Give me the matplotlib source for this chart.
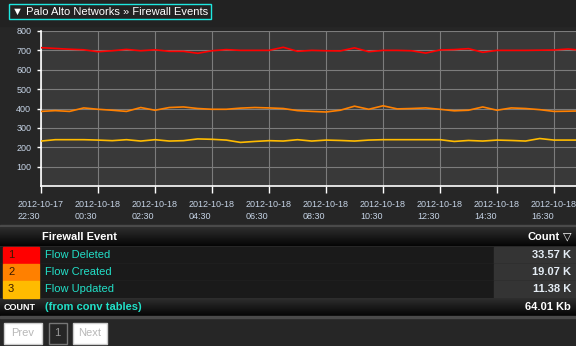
import matplotlib
matplotlib.use('Agg')
import matplotlib.pyplot as plt
import numpy as np
import pandas as pd
from matplotlib.patches import Rectangle

# ---------------- data ----------------
times = pd.date_range('2012-10-17 22:30', periods=39, freq='30min')
flow_deleted = [714, 710, 706, 703, 693, 698, 705, 698, 703, 695, 695, 685, 698,
                704, 700, 700, 700, 716, 695, 700, 698, 697, 713, 693, 700, 700,
                698, 686, 702, 704, 709, 690, 700, 700, 700, 701, 702, 707, 700]
flow_created = [385, 389, 385, 403, 396, 391, 385, 405, 391, 405, 408, 400, 396,
                396, 402, 405, 403, 400, 389, 385, 382, 391, 412, 396, 414, 398,
                400, 403, 396, 388, 391, 408, 391, 403, 400, 394, 385, 386, 388]
flow_updated = [232, 239, 239, 239, 237, 234, 239, 232, 239, 232, 234, 243, 241,
                237, 225, 230, 234, 232, 239, 232, 237, 235, 232, 237, 239, 239,
                239, 239, 239, 230, 235, 232, 237, 235, 232, 245, 237, 237, 237]
tick_times = pd.date_range('2012-10-17 22:30', periods=10, freq='2h')
tick_labels = ['2012-10-17\n22:30', '2012-10-18\n00:30', '2012-10-18\n02:30',
               '2012-10-18\n04:30', '2012-10-18\n06:30', '2012-10-18\n08:30',
               '2012-10-18\n10:30', '2012-10-18\n12:30', '2012-10-18\n14:30',
               '2012-10-18\n16:30']
y_ticks = [100, 200, 300, 400, 500, 600, 700, 800]
events = ['Flow Deleted', 'Flow Created', 'Flow Updated']
counts = ['33.57 K', '19.07 K', '11.38 K']
total = '64.01 Kb'
series_colors = ['#ff0000', '#ff8000', '#ffbb00']
title = '\u25BC Palo Alto Networks \u00BB Firewall Events'

# ---------------- styling ----------------
W, H = 576, 346
BG = '#262626'
CYAN = '#22e0c8'
TICKC = '#c6d4e6'
FONT = ['Liberation Sans', 'DejaVu Sans']
plt.rcParams['font.family'] = FONT

fig = plt.figure(figsize=(W / 100, H / 100), dpi=100, facecolor=BG)

# background / decoration axes in pixel coordinates
bg = fig.add_axes([0, 0, 1, 1], zorder=0)
bg.set_xlim(0, W)
bg.set_ylim(H, 0)
bg.axis('off')
bg.add_patch(Rectangle((0, 0), W, 26, color='#222222', zorder=0))

# title box
bg.add_patch(Rectangle((8.5, 3.5), 202.5, 15.5, fill=False, ec='#1ee8e0', lw=1.0, zorder=2))
bg.text(12, 11.5, title, color='white', fontsize=8, va='center', ha='left', zorder=3)


def gradient(y0, y1, c_top, c_bot):
    top = np.array(matplotlib.colors.to_rgb(c_top))
    bot = np.array(matplotlib.colors.to_rgb(c_bot))
    t = np.linspace(0, 1, 32)[:, None]
    img = (top * (1 - t) + bot * t)[:, None, :]
    bg.imshow(img, extent=(0, W, y1, y0), aspect='auto', zorder=1, interpolation='bilinear')


# separator above table
bg.add_patch(Rectangle((0, 224.5), W, 2, color='#4a4a4a', zorder=1))
# header row
gradient(227, 246, '#2e2e2e', '#050505')
bg.text(42, 236.5, 'Firewall Event', color='white', fontsize=8, fontweight='bold',
        va='center', ha='left', zorder=3)
bg.text(560, 236.5, 'Count', color='white', fontsize=8, fontweight='bold',
        va='center', ha='right', zorder=3)
bg.text(571, 236.0, '\u25BD', color='white', fontsize=8, va='center', ha='right', zorder=3,
        family=['DejaVu Sans'])

row_tops = [247, 264, 281]
row_h = 16.5
for i, (name, cnt, col) in enumerate(zip(events, counts, series_colors)):
    y0 = row_tops[i]
    bg.add_patch(Rectangle((0, y0 - 0.5), W, row_h + 1, color='#3c3c3c', zorder=1))
    bg.add_patch(Rectangle((0, y0), W, row_h, color='#1a1a1a', zorder=1))
    bg.add_patch(Rectangle((494, y0), W - 494, row_h, color='#343434', zorder=1))
    bg.add_patch(Rectangle((3, y0), 36, row_h, color=col, zorder=2))
    yc = y0 + row_h / 2
    bg.text(8, yc, str(i + 1), color='#3a1a00', fontsize=8, va='center', ha='left', zorder=3)
    bg.text(45, yc, name, color=CYAN, fontsize=8, va='center', ha='left', zorder=3)
    bg.text(571, yc, cnt, color='#e4ecf4', fontsize=8, fontweight='bold',
            va='center', ha='right', zorder=3)

# count row
gradient(298, 316, '#2e2e2e', '#050505')
bg.text(4, 307, 'COUNT', color='white', fontsize=6.5, fontweight='bold',
        va='center', ha='left', zorder=3)
bg.text(45, 307, '(from conv tables)', color=CYAN, fontsize=8, fontweight='bold',
        va='center', ha='left', zorder=3)
bg.text(571, 307, total, color='white', fontsize=8, fontweight='bold',
        va='center', ha='right', zorder=3)
bg.add_patch(Rectangle((0, 316), W, 1.5, color='#4a4a4a', zorder=1))

# pager buttons
bg.add_patch(Rectangle((3.5, 322.5), 38, 21, fc='white', ec='#cccccc', lw=1, zorder=2))
bg.text(22.5, 333, 'Prev', color='#b8b8b8', fontsize=8, va='center', ha='center', zorder=3)
bg.add_patch(Rectangle((48.5, 322.5), 18, 21, fc='#262626', ec='#777777', lw=1, zorder=2))
bg.text(57.5, 333, '1', color='#999999', fontsize=8, va='center', ha='center', zorder=3)
bg.add_patch(Rectangle((72.5, 322.5), 34, 21, fc='white', ec='#cccccc', lw=1, zorder=2))
bg.text(89.5, 333, 'Next', color='#b8b8b8', fontsize=8, va='center', ha='center', zorder=3)

# ---------------- chart ----------------
left_px, top_px, right_px, bottom_px = 41, 31, 576, 186
ax = fig.add_axes([left_px / W, 1 - bottom_px / H, (right_px - left_px) / W,
                   (bottom_px - top_px) / H], zorder=2)
ax.set_facecolor('#393939')
for vals, col in zip([flow_deleted, flow_created, flow_updated], series_colors):
    ax.plot(times, vals, color=col, lw=1.2, zorder=3, solid_joinstyle='round')

hours_span = (right_px - left_px) / 28.5
ax.set_xlim(times[0], times[0] + pd.Timedelta(hours=hours_span))
ax.set_ylim(0, 800)
ax.set_yticks(y_ticks)
ax.set_yticklabels([str(v) for v in y_ticks])
ax.set_xticks(tick_times)
ax.set_xticklabels(tick_labels)
for lab in ax.get_xticklabels():
    lab.set_multialignment('left')
    lab.set_linespacing(1.45)

ax.grid(True, color='#7c7c7c', lw=0.8, zorder=1)
ax.set_axisbelow(True)
for s in ['top', 'right']:
    ax.spines[s].set_visible(False)
for s in ['left', 'bottom']:
    ax.spines[s].set_color('white')
    ax.spines[s].set_linewidth(1.2)
ax.tick_params(axis='x', colors='white', labelcolor=TICKC, labelsize=6.5,
               length=5, width=1, pad=5)
ax.tick_params(axis='y', colors='white', labelcolor=TICKC, labelsize=6.5,
               length=3, width=1, pad=4)

fig.savefig('out.png', dpi=100, facecolor=BG)
